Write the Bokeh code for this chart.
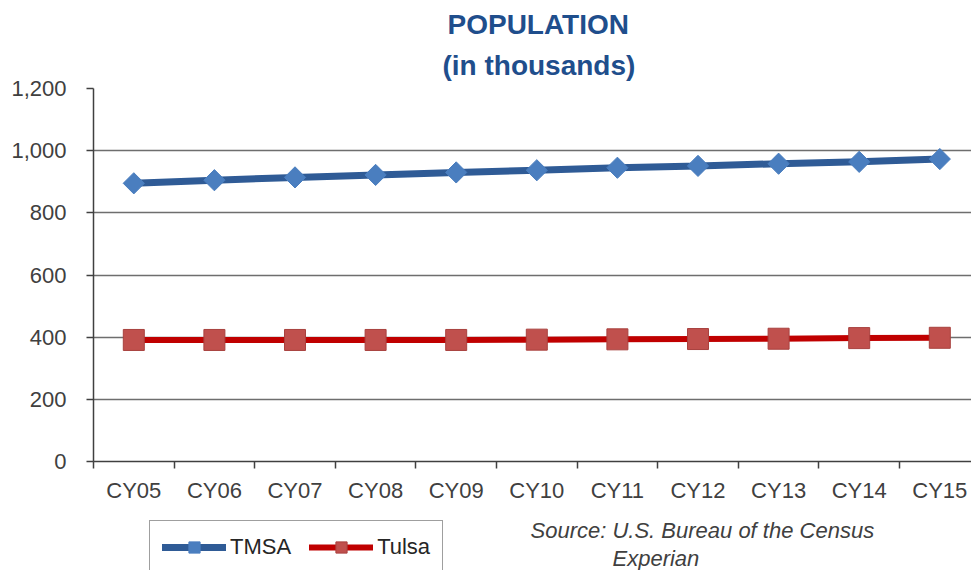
import math
from bokeh.plotting import figure
from bokeh.layouts import column
from bokeh.models import (Range1d, FixedTicker, NumeralTickFormatter, Label,
                          Legend, LegendItem, ColumnDataSource, Title)
from bokeh.embed import file_html
from bokeh.resources import INLINE

# ---- data ----
years = ["CY05", "CY06", "CY07", "CY08", "CY09", "CY10",
         "CY11", "CY12", "CY13", "CY14", "CY15"]
tmsa = [895, 905, 914, 922, 930, 937, 945, 951, 958, 964, 973]
tulsa = [391, 391, 391, 391, 391, 392, 393, 394, 395, 397, 398]
y_ticks = [0, 200, 400, 600, 800, 1000, 1200]
series_names = ["TMSA", "Tulsa"]
title_lines = ["POPULATION", "(in thousands)"]
source_lines = ["Source: U.S. Bureau of the Census", "Experian"]

FONT = "Liberation Sans"
TEXT = "#404040"
TITLE_COLOR = "#1F4E8C"
W = 971
FRAME_LEFT = 93   # both stacked figures share this left border

xs = [i + 0.5 for i in range(len(years))]
src = ColumnDataSource(dict(x=xs, year=years, tmsa=tmsa, tulsa=tulsa))

TMSA_LINE = dict(line_color="#2F5B96", line_width=7, line_cap="round")
TMSA_MARK = dict(marker="square", angle=math.pi / 4, size=15,
                 fill_color="#4A7EBF", line_color="#4A7EBF")
TULSA_LINE = dict(line_color="#C00000", line_width=6, line_cap="round")
TULSA_MARK = dict(marker="square", size=21, fill_color="#C0504D",
                  line_color="#A8413E")

# ---------------- main chart (with the two title lines above) ----------------
p = figure(width=W, height=505, output_backend="svg", toolbar_location=None,
           x_range=Range1d(0, 878 / 80.6), y_range=Range1d(0, 1200),
           min_border_left=FRAME_LEFT, min_border_right=0, min_border_top=88,
           min_border_bottom=42)
p.outline_line_color = None
p.title.text = ""

# nearest to the plot first, then the line above it
for txt, off, stand in zip(reversed(title_lines), [349, 354], [16, 0]):
    p.add_layout(Title(text=txt, align="left", offset=off, standoff=stand,
                       text_font=FONT, text_font_style="bold",
                       text_font_size="28px", text_color=TITLE_COLOR), "above")

p.xaxis.ticker = FixedTicker(ticks=xs, minor_ticks=list(range(len(years) + 1)))
p.xaxis.major_label_overrides = {x: y for x, y in zip(xs, years)}
p.xaxis.major_tick_line_color = None
p.xaxis.minor_tick_line_color = TEXT
p.xaxis.minor_tick_line_width = 1.5
p.xaxis.minor_tick_out = 7
p.xaxis.minor_tick_in = 0
p.xaxis.axis_line_color = TEXT
p.xaxis.axis_line_width = 1.5
p.xaxis.major_label_text_font = FONT
p.xaxis.major_label_text_font_size = "22px"
p.xaxis.major_label_text_color = TEXT
p.xaxis.major_label_standoff = 9
p.xgrid.visible = False

p.yaxis.ticker = FixedTicker(ticks=y_ticks)
p.yaxis.formatter = NumeralTickFormatter(format="0,0")
p.yaxis.minor_tick_line_color = None
p.yaxis.major_tick_out = 7
p.yaxis.major_tick_in = 0
p.yaxis.major_tick_line_color = TEXT
p.yaxis.major_tick_line_width = 1.5
p.yaxis.axis_line_color = TEXT
p.yaxis.axis_line_width = 1.5
p.yaxis.major_label_text_font = FONT
p.yaxis.major_label_text_font_size = "22px"
p.yaxis.major_label_text_color = TEXT
p.yaxis.major_label_standoff = 20
p.ygrid.grid_line_color = "#6E6E6E"
p.ygrid.grid_line_width = 1.5

p.line("x", "tmsa", source=src, **TMSA_LINE)
p.scatter("x", "tmsa", source=src, **TMSA_MARK)
p.line("x", "tulsa", source=src, **TULSA_LINE)
p.scatter("x", "tulsa", source=src, **TULSA_MARK)

# ---------------- footer: legend + source ----------------
FH = 65
foot = figure(width=W, height=FH, output_backend="svg", toolbar_location=None,
              x_axis_type=None, y_axis_type=None,
              x_range=Range1d(0, W), y_range=Range1d(0, FH), min_border=0)
foot.outline_line_color = None
foot.grid.visible = False
# same series, drawn outside the footer's view: used only as legend keys
l1 = foot.line("x", "tmsa", source=src, **TMSA_LINE)
m1 = foot.scatter("x", "tmsa", source=src, **TMSA_MARK)
l2 = foot.line("x", "tulsa", source=src, **TULSA_LINE)
m2 = foot.scatter("x", "tulsa", source=src, **TULSA_MARK)
legend = Legend(items=[LegendItem(label=series_names[0], renderers=[l1, m1]),
                       LegendItem(label=series_names[1], renderers=[l2, m2])],
                location=(149 - FRAME_LEFT, -4), orientation="horizontal",
                padding=12, spacing=18, margin=0,
                glyph_width=64, glyph_height=28, label_height=28,
                label_standoff=4, label_text_font=FONT,
                label_text_font_size="22px", label_text_color="#262626",
                border_line_color="#404040", border_line_width=1.5,
                background_fill_color="white", background_fill_alpha=1)
foot.add_layout(legend, "center")

for txt, xx, yy in zip(source_lines, [530, 612], [40, 12]):
    foot.add_layout(Label(x=xx - FRAME_LEFT, y=yy, x_units="screen",
                          y_units="screen", text=txt, text_align="left",
                          text_baseline="alphabetic", text_font=FONT,
                          text_font_style="italic", text_font_size="22px",
                          text_color=TEXT))

layout = column(p, foot, spacing=0)
open("out.html", "w").write(file_html(layout, INLINE))
